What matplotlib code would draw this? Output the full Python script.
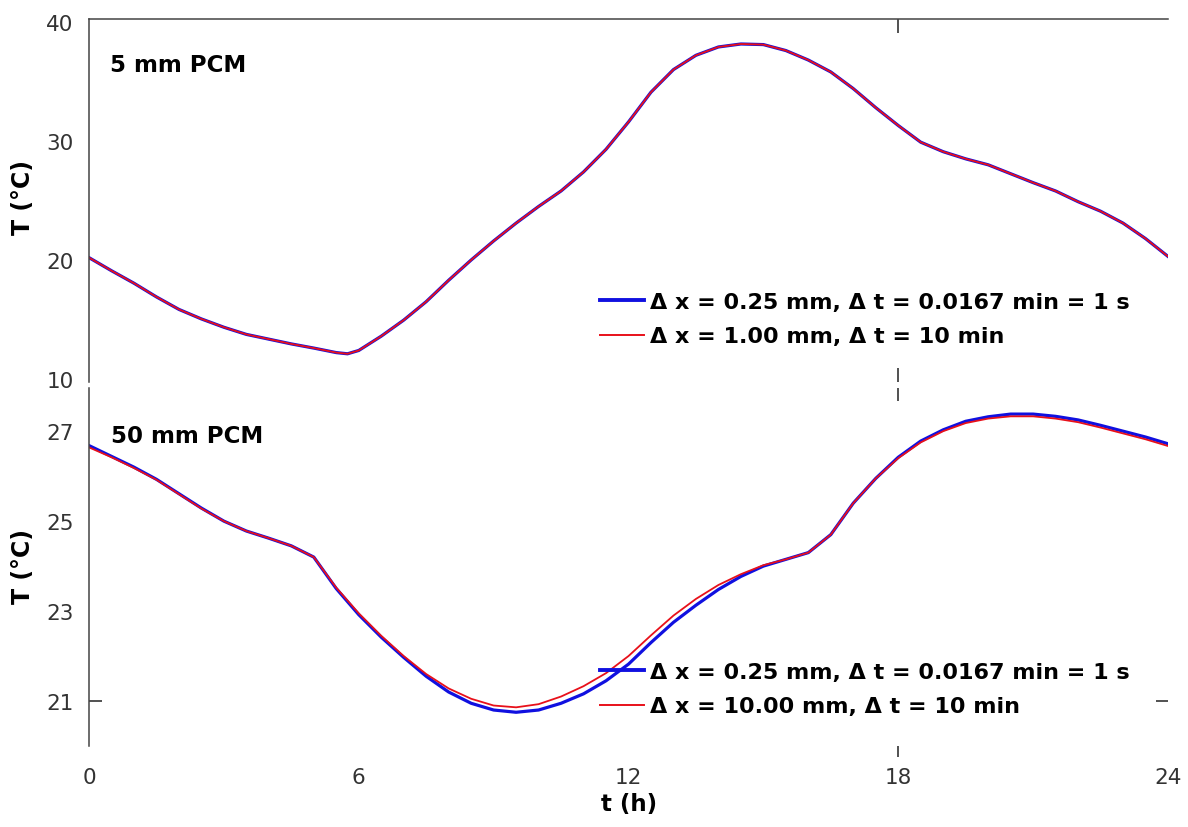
import matplotlib.pyplot as plt
from matplotlib.lines import Line2D

W, H = 1188, 828

# time (h)
t5 = [0, 0.5, 1, 1.5, 2, 2.5, 3, 3.5, 4, 4.5, 5, 5.5, 5.75, 6, 6.5, 7, 7.5, 8, 8.5, 9,
      9.5, 10, 10.5, 11, 11.5, 12, 12.5, 13, 13.5, 14, 14.5, 15, 15.5, 16, 16.5, 17,
      17.5, 18, 18.5, 19, 19.5, 20, 20.5, 21, 21.5, 22, 22.5, 23, 23.5, 24]
# 5 mm PCM, fine and coarse grids (overlap)
T5_fine = [20.2, 19.1, 18.05, 16.9, 15.85, 15.05, 14.35, 13.75, 13.35, 12.95, 12.6, 12.22,
           12.12, 12.4, 13.6, 14.95, 16.5, 18.3, 20.0, 21.6, 23.1, 24.5, 25.8, 27.4, 29.3,
           31.6, 34.1, 36.0, 37.2, 37.9, 38.15, 38.1, 37.6, 36.8, 35.8, 34.4, 32.8, 31.3,
           29.9, 29.1, 28.5, 28.0, 27.25, 26.5, 25.8, 24.9, 24.1, 23.1, 21.8, 20.3]
T5_coarse = [20.2, 19.1, 18.05, 16.9, 15.85, 15.05, 14.35, 13.75, 13.35, 12.95, 12.6, 12.22,
             12.12, 12.4, 13.6, 14.95, 16.5, 18.3, 20.0, 21.6, 23.1, 24.5, 25.8, 27.4, 29.3,
             31.6, 34.1, 36.0, 37.2, 37.9, 38.15, 38.1, 37.6, 36.8, 35.8, 34.4, 32.8, 31.3,
             29.9, 29.1, 28.5, 28.0, 27.25, 26.5, 25.8, 24.9, 24.1, 23.1, 21.8, 20.3]

t50 = [0, 0.5, 1, 1.5, 2, 2.5, 3, 3.5, 4, 4.5, 5, 5.5, 6, 6.5, 7, 7.5, 8, 8.5, 9,
       9.5, 10, 10.5, 11, 11.5, 12, 12.5, 13, 13.5, 14, 14.5, 15, 15.5, 16, 16.5, 17,
       17.5, 18, 18.5, 19, 19.5, 20, 20.5, 21, 21.5, 22, 22.5, 23, 23.5, 24]
# 50 mm PCM
T50_fine = [26.68, 26.44, 26.2, 25.93, 25.61, 25.29, 25.0, 24.78, 24.62, 24.45, 24.2, 23.5,
            22.92, 22.42, 21.97, 21.55, 21.2, 20.95, 20.8, 20.75, 20.8, 20.95, 21.16, 21.45,
            21.82, 22.3, 22.75, 23.13, 23.48, 23.77, 24.0, 24.15, 24.3, 24.7, 25.4, 25.95,
            26.42, 26.78, 27.03, 27.22, 27.32, 27.38, 27.38, 27.33, 27.25, 27.13, 27.0,
            26.87, 26.72]
T50_coarse = [26.64, 26.42, 26.18, 25.92, 25.6, 25.28, 25.0, 24.78, 24.62, 24.45, 24.2, 23.52,
              22.95, 22.45, 22.0, 21.6, 21.28, 21.05, 20.9, 20.86, 20.93, 21.1, 21.33, 21.62,
              22.0, 22.46, 22.9, 23.27, 23.58, 23.82, 24.02, 24.15, 24.3, 24.7, 25.4, 25.95,
              26.4, 26.75, 27.0, 27.18, 27.28, 27.33, 27.33, 27.28, 27.2, 27.08, 26.95,
              26.82, 26.67]

lab_fine = "Δ x = 0.25 mm, Δ t = 0.0167 min = 1 s"
lab_c5 = "Δ x = 1.00 mm, Δ t = 10 min"
lab_c50 = "Δ x = 10.00 mm, Δ t = 10 min"

blue = "#1010e0"
red = "#e8101a"
spc = "#444444"
txt = "#333333"

fig = plt.figure(figsize=(11.88, 8.28), dpi=100)
ax1 = fig.add_axes([89 / W, 1 - 383 / H, (1168 - 89) / W, (383 - 20) / H])
ax2 = fig.add_axes([89 / W, 1 - 747 / H, (1168 - 89) / W, (747 - 389) / H])

ax1.plot(t5, T5_fine, color=blue, lw=2.3, solid_joinstyle='round')
ax1.plot(t5, T5_coarse, color=red, lw=1.3, solid_joinstyle='round')
ax2.plot(t50, T50_fine, color=blue, lw=2.3, solid_joinstyle='round')
ax2.plot(t50, T50_coarse, color=red, lw=1.3, solid_joinstyle='round')

for ax in (ax1, ax2):
    ax.set_xlim(0, 24)
    for s in ax.spines.values():
        s.set_color(spc)
        s.set_linewidth(1.1)
    ax.spines['right'].set_visible(False)
    ax.spines['bottom'].set_visible(False)
ax2.spines['top'].set_visible(False)

ax1.set_ylim(9.75, 40.25)
ax2.set_ylim(20.0, 27.96)

# top panel ticks
ax1.set_yticks([10, 20, 30, 40])
ax1.tick_params(axis='y', length=0, pad=11, labelsize=15.5, labelcolor=txt)
ax1.set_xticks([18])
ax1.tick_params(axis='x', top=True, bottom=True, direction='in', length=10,
                width=1.1, color='#222222', labelbottom=False, labeltop=False)

# bottom panel ticks
ax2.xaxis.remove_overlapping_locs = False
ax2.yaxis.remove_overlapping_locs = False
ax2.set_xticks([0, 6, 12, 18, 24])
ax2.set_xticks([18], minor=True)
ax2.tick_params(axis='x', which='major', length=0, pad=15, labelsize=15.5, labelcolor=txt)
ax2.tick_params(axis='x', which='minor', top=True, bottom=False, direction='in',
                length=9, width=1.1, color='#222222')
sec = ax2.secondary_xaxis('bottom')
sec.set_xticks([18])
sec.tick_params(direction='out', length=8, width=1.1, color='#222222', labelbottom=False)
for s in sec.spines.values():
    s.set_visible(False)

ax2.set_yticks([21, 23, 25, 27])
ax2.set_yticks([21], minor=True)
ax2.tick_params(axis='y', which='major', length=0, pad=11, labelsize=15.5, labelcolor=txt)
ax2.tick_params(axis='y', which='minor', left=True, right=True, direction='in',
                length=9, width=1.1, color='#222222')

# legends
hf = Line2D([], [], color=blue, lw=2.8)
hc = Line2D([], [], color=red, lw=1.4)
lp = dict(frameon=False, borderpad=0, borderaxespad=0, handlelength=2.0,
          handletextpad=0.25, labelspacing=0.65, loc='upper left',
          prop=dict(size=16, weight='bold'), bbox_transform=fig.transFigure)
ax1.legend([hf, hc], [lab_fine, lab_c5], bbox_to_anchor=(600 / W, 1 - 293 / H), **lp)
ax2.legend([hf, hc], [lab_fine, lab_c50], bbox_to_anchor=(600 / W, 1 - 663 / H), **lp)

# panel labels and axis titles
fig.text(110 / W, 1 - 72 / H, "5 mm PCM", fontsize=16.5, fontweight='bold', va='baseline')
fig.text(111 / W, 1 - 443 / H, "50 mm PCM", fontsize=16.5, fontweight='bold', va='baseline')
fig.text(23 / W, 1 - 198 / H, "T (°C)", rotation=90, fontsize=17, fontweight='bold',
         ha='center', va='center')
fig.text(23 / W, 1 - 567 / H, "T (°C)", rotation=90, fontsize=17, fontweight='bold',
         ha='center', va='center')
fig.text(629 / W, 1 - 805 / H, "t (h)", fontsize=16.5, fontweight='bold',
         ha='center', va='center')

fig.savefig("out.png", dpi=100)
